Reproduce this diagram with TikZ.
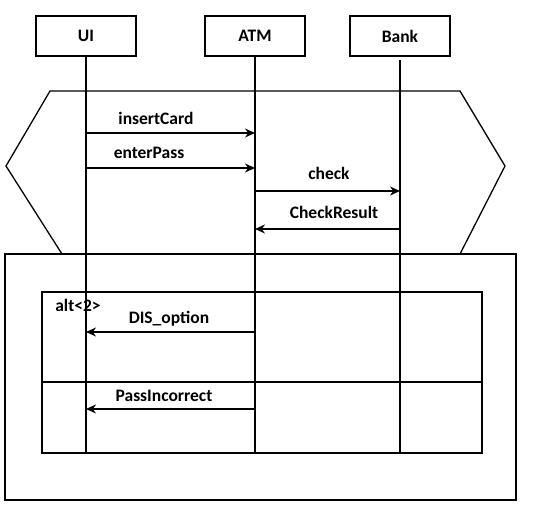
\documentclass[tikz,border=0pt]{standalone}
\usepackage{fontspec}
\setmainfont{Carlito}
\usetikzlibrary{arrows.meta}

\begin{document}
\begin{tikzpicture}[x=1pt,y=-1pt,line width=1.3pt,>=Stealth,
  obj/.style={draw,line width=2.8pt,minimum width=100pt,minimum height=40pt,
    font=\bfseries\fontsize{17.5}{20}\selectfont},
  msg/.style={->,>={Stealth[length=10pt,width=9pt]}},
  lbl/.style={font=\bfseries\fontsize{17.5}{20}\selectfont}]
\useasboundingbox (0,0) rectangle (550,507);
% ---------- objects and lifelines ----------
\node[obj] (ui) at (86,36) {UI};
\node[obj] (atm) at (255,36) {ATM};
\node[obj] (bank) at (400,36) {Bank};
\coordinate (uiend) at (86,453);
\coordinate (atmend) at (255,453);
\coordinate (bankend) at (400,453);
\draw (ui.south) -- (uiend);
\draw (atm.south) -- (atmend);
\draw (bank.south) ++(0,3) -- (bankend);
% ---------- first fragment (hexagon) ----------
\draw (62,254) -- (6,166) -- (50,91) -- (460,91) -- (505,166) -- (460,254);
\draw[msg] (ui |- 0,133) -- (atm |- 0,133);
\node[lbl] (insert) at (156,118) {insertCard};
\draw[msg] (ui |- 0,168) -- (atm |- 0,168);
\node[lbl] (enter) at (149,153) {enterPass};
\draw[msg] (atm |- 0,191) -- (bank |- 0,191);
\node[lbl] (check) at (329,173) {check};
\draw[msg] (bank |- 0,229) -- (atm |- 0,229);
\node[lbl] (result) at (334,212) {CheckResult};
% ---------- second fragment with alt ----------
\draw (5,254) rectangle (516,500);
\draw (42,292) rectangle (482,453);
\draw (42,382) -- (482,382);
\node[lbl] (alt) at (78,305) {alt<2>};
\draw[msg] (atm |- 0,332) -- (ui |- 0,332);
\node[lbl] (dis) at (169,319) {DIS\_option};
\draw[msg] (atm |- 0,409) -- (ui |- 0,409);
\node[lbl] (pass) at (164,396) {PassIncorrect};
\end{tikzpicture}
\end{document}
